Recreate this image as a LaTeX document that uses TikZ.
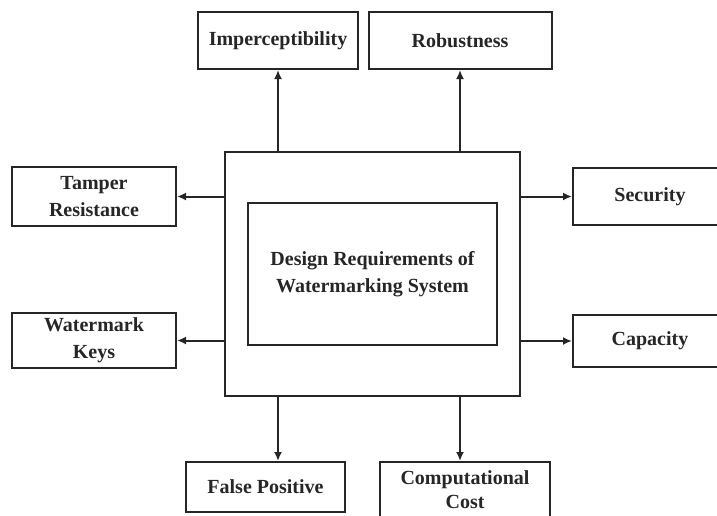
\documentclass[tikz,border=0pt]{standalone}
\usepackage{fontspec}
\setmainfont{Liberation Serif}
\usetikzlibrary{arrows.meta}
\begin{document}
\begin{tikzpicture}[x=1pt,y=-1pt,
  box/.style={draw=black!85,line width=2pt,fill=white,align=center,inner sep=0pt,
    font=\fontsize{20}{27}\selectfont\bfseries,text=black!85},
  arr/.style={draw=black!85,line width=2pt,-{Latex[length=9pt,width=8pt]}}]
\useasboundingbox (0,0) rectangle (717,515);
\node[box,minimum width=295pt,minimum height=244pt] (outer) at (372.5,274) {};
\node[box,minimum width=249pt,minimum height=142pt] (inner) at (372.5,274) {Design Requirements of\\Watermarking System};
\node[box,minimum width=160pt,minimum height=57pt] (imp) at (278,40.5) {Imperceptibility};
\node[box,minimum width=183pt,minimum height=57pt] (rob) at (460,40.5) {Robustness};
\node[box,minimum width=164pt,minimum height=59pt] (tam) at (94,196.5) {Tamper\\Resistance};
\node[box,minimum width=164pt,minimum height=55pt] (wat) at (94,340.5) {Watermark\\Keys};
\node[box,minimum width=154pt,minimum height=57pt] (sec) at (650,196.5) {Security};
\node[box,minimum width=154pt,minimum height=52pt] (cap) at (650,341) {Capacity};
\node[box,minimum width=159pt,minimum height=50pt] (fp) at (265.5,487) {False Positive};
\node[box,minimum width=170pt,minimum height=56pt,font=\fontsize{20}{24}\selectfont\bfseries] (cc) at (465,490) {Computational\\Cost};
\draw[arr] (outer.north -| imp.south) -- (imp.south);
\draw[arr] (outer.north -| rob.south) -- (rob.south);
\draw[arr] (outer.west |- tam.east) -- (tam.east);
\draw[arr] (outer.west |- wat.east) -- (wat.east);
\draw[arr] (outer.east |- sec.west) -- (sec.west);
\draw[arr] (outer.east |- cap.west) -- (cap.west);
\draw[arr] (outer.south -| imp.south) -- (fp.north -| imp.south);
\draw[arr] (outer.south -| rob.south) -- (cc.north -| rob.south);
\end{tikzpicture}
\end{document}
